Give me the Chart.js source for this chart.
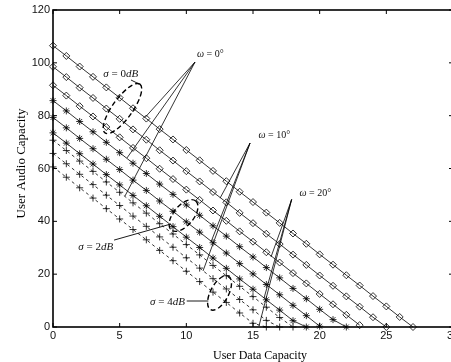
<!DOCTYPE html>
<html><head><meta charset="utf-8">
<script src="https://cdn.jsdelivr.net/npm/chart.js@4.4.1/dist/chart.umd.min.js"></script>
<style>
html,body{margin:0;padding:0;overflow:hidden;background:#fff;width:451px;height:362px}
canvas{display:block}
</style></head>
<body><canvas id="c" width="470" height="362"></canvas>
<script>
// ---- data ----
const dataCapacity = [0,1,2,3,4,5,6,7,8,9,10,11,12,13,14,15,16,17,18,19,20,21,22,23,24,25,26,27];
const xTicks = [0,5,10,15,20,25,30];
const yTicks = [0,20,40,60,80,100,120];

// sigma = 0 dB (diamonds)
const sigma0_w0  = [106.5,102.6,98.6,94.7,90.7,86.8,82.8,78.9,74.9,71.0,67.0,63.1,59.1,55.2,51.2,47.3,43.3,39.4,35.4,31.5,27.5,23.6,19.6,15.7,11.7,7.8,3.8,0];
const sigma0_w10 = [98.5,94.6,90.6,86.7,82.7,78.8,74.8,70.9,66.9,63.0,59.0,55.1,51.1,47.2,43.2,39.3,35.3,31.4,27.4,23.5,19.5,15.6,11.6,7.7,3.7,0];
const sigma0_w20 = [91.5,87.6,83.6,79.7,75.7,71.8,67.8,63.9,59.9,56.0,52.0,48.1,44.1,40.2,36.2,32.3,28.3,24.4,20.4,16.5,12.5,8.6,4.6,0.7];
// sigma = 2 dB (stars)
const sigma2_w0  = [85.7,81.8,77.8,73.9,69.9,66.0,62.0,58.1,54.1,50.2,46.2,42.3,38.3,34.4,30.4,26.5,22.5,18.6,14.6,10.7,6.7,2.8,0];
const sigma2_w10 = [79.3,75.4,71.4,67.5,63.5,59.6,55.6,51.7,47.7,43.8,39.8,35.9,31.9,28.0,24.0,20.1,16.1,12.2,8.2,4.3,0.3];
const sigma2_w20 = [73.5,69.6,65.6,61.7,57.7,53.8,49.8,45.9,41.9,38.0,34.0,30.1,26.1,22.2,18.2,14.3,10.3,6.4,2.4,0];
// sigma = 4 dB (plus)
const sigma4_w0  = [70.7,66.8,62.8,58.9,54.9,51.0,47.0,43.1,39.1,35.2,31.2,27.3,23.3,19.4,15.4,11.5,7.5,3.6,0];
const sigma4_w10 = [65.7,61.8,57.8,53.9,49.9,46.0,42.0,38.1,34.1,30.2,26.2,22.3,18.3,14.4,10.4,6.5,2.5,0];
const sigma4_w20 = [60.6,56.7,52.7,48.8,44.8,40.9,36.9,33.0,29.0,25.1,21.1,17.2,13.2,9.3,5.3,1.4,0];

// annotations (data coordinates)
const omegaLabels = [
  {text:['ω',' = 0°'],  at:[10.80,103.2], apex:[10.65,100.3], ends:[[6.90,79.3],[5.55,64.0],[5.40,49.6]]},
  {text:['ω',' = 10°'], at:[15.41,72.7],  apex:[14.78,69.65], ends:[[12.53,48.8],[11.85,32.2],[11.25,21.2]]},
  {text:['ω',' = 20°'], at:[18.49,50.5],  apex:[17.90,48.3],  ends:[[16.35,26.5],[15.83,11.0],[15.45,0.4]]}
];
const sigmaLabels = [
  {text:['σ',' = 0','dB'], at:[3.77,95.8], center:[5.21,82.7], leader:[[5.85,93.5],[6.45,92.0]]},
  {text:['σ',' = 2','dB'], at:[1.90,30.3], center:[9.79,42.2], leader:[[4.58,32.9],[8.85,39.0]]},
  {text:['σ',' = 4','dB'], at:[7.28,9.5],  center:[12.49,12.9], leader:[[10.03,9.84],[11.65,9.84]]}
];
const ellipseShapes = [[30,10,-0.95],[19,10,-0.87],[19,9,-1.08]]; // rx, ry, rotation (px)

function toXY(arr){ return arr.map((v,i)=>({x:dataCapacity[i], y:v})); }

const SERIF = '"Liberation Serif","Times New Roman",serif';
const SANS = '"Liberation Sans",Arial,Helvetica,sans-serif';

function ds(label, arr, style, dash){
  return {label, data: toXY(arr), pointStyle: style, borderDash: dash, clip: false,
    borderColor:'#000', borderWidth:0.8, pointRadius:3.5, pointHoverRadius:3.5,
    pointBorderColor:'#000', pointBorderWidth:0.8, pointBackgroundColor:'rgba(0,0,0,0)',
    tension:0, fill:false};
}

function drawRich(ctx, parts, x, y, size){
  let cx = x;
  parts.forEach((p, i)=>{
    const italic = (i % 2 === 0);
    ctx.font = (italic ? 'italic ' : '') + size + 'px ' + SERIF;
    ctx.fillText(p, cx, y);
    cx += ctx.measureText(p).width;
  });
}

const decor = {
  id:'decor',
  afterDraw(chart){
    const {ctx, chartArea:a, scales:{x, y}} = chart;
    const X = v => x.getPixelForValue(v), Y = v => y.getPixelForValue(v);
    ctx.save();
    // frame
    ctx.strokeStyle = '#000'; ctx.lineWidth = 1.6; ctx.setLineDash([]);
    ctx.strokeRect(a.left, a.top, a.right - a.left, a.bottom - a.top);
    // inward ticks
    ctx.lineWidth = 1;
    ctx.beginPath();
    xTicks.forEach(v=>{ const px = X(v);
      ctx.moveTo(px, a.bottom); ctx.lineTo(px, a.bottom - 4);
      ctx.moveTo(px, a.top); ctx.lineTo(px, a.top + 4); });
    yTicks.forEach(v=>{ const py = Y(v);
      ctx.moveTo(a.left, py); ctx.lineTo(a.left + 4, py);
      ctx.moveTo(a.right, py); ctx.lineTo(a.right - 4, py); });
    ctx.stroke();
    // omega pointers
    ctx.lineWidth = 0.8;
    omegaLabels.forEach(o=>{
      ctx.beginPath();
      o.ends.forEach(e=>{ ctx.moveTo(X(o.apex[0]), Y(o.apex[1])); ctx.lineTo(X(e[0]), Y(e[1])); });
      ctx.stroke();
    });
    // sigma ellipses + leaders
    sigmaLabels.forEach((s, i)=>{
      const [rx, ry, rot] = ellipseShapes[i];
      ctx.lineWidth = 1.4; ctx.setLineDash([5,3]);
      ctx.beginPath(); ctx.ellipse(X(s.center[0]), Y(s.center[1]), rx, ry, rot, 0, Math.PI*2); ctx.stroke();
      ctx.setLineDash([]); ctx.lineWidth = 0.9;
      ctx.beginPath(); ctx.moveTo(X(s.leader[0][0]), Y(s.leader[0][1])); ctx.lineTo(X(s.leader[1][0]), Y(s.leader[1][1])); ctx.stroke();
    });
    // labels
    ctx.fillStyle = '#111'; ctx.textBaseline = 'middle'; ctx.textAlign = 'left';
    omegaLabels.forEach(o=> drawRich(ctx, o.text, X(o.at[0]), Y(o.at[1]), 10));
    sigmaLabels.forEach(s=> drawRich(ctx, s.text, X(s.at[0]), Y(s.at[1]), 11));
    // axis titles
    ctx.fillStyle = '#000'; ctx.textBaseline = 'alphabetic'; ctx.textAlign = 'center';
    ctx.font = '12px ' + SERIF;
    ctx.fillText('User Data Capacity', (a.left + a.right)/2 + 7, 359);
    ctx.save();
    ctx.translate(25, (a.top + a.bottom)/2 - 5);
    ctx.rotate(-Math.PI/2);
    ctx.font = '13px ' + SERIF;
    ctx.fillText('User Audio Capacity', 0, 0);
    ctx.restore();
    ctx.restore();
  }
};

new Chart(document.getElementById('c'), {
  type:'line',
  data:{ datasets:[
    ds('σ = 0dB, ω = 0°',  sigma0_w0,  'rectRot', []),
    ds('σ = 0dB, ω = 10°', sigma0_w10, 'rectRot', []),
    ds('σ = 0dB, ω = 20°', sigma0_w20, 'rectRot', []),
    ds('σ = 2dB, ω = 0°',  sigma2_w0,  'star', []),
    ds('σ = 2dB, ω = 10°', sigma2_w10, 'star', []),
    ds('σ = 2dB, ω = 20°', sigma2_w20, 'star', []),
    ds('σ = 4dB, ω = 0°',  sigma4_w0,  'cross', [3,3]),
    ds('σ = 4dB, ω = 10°', sigma4_w10, 'cross', [3,3]),
    ds('σ = 4dB, ω = 20°', sigma4_w20, 'cross', [3,3])
  ]},
  options:{
    responsive:false, animation:false, events:[],
    layout:{padding:{left:0, top:10, right:17, bottom:0}},
    plugins:{legend:{display:false}, tooltip:{enabled:false}},
    scales:{
      x:{type:'linear', min:0, max:30,
        afterBuildTicks: s=>{ s.ticks = xTicks.map(v=>({value:v})); },
        afterFit: s=>{ s.height = 35; },
        grid:{display:false, drawTicks:false}, border:{display:false},
        ticks:{padding:2, color:'#111', font:{family:SANS, size:11}, maxRotation:0, autoSkip:false}},
      y:{type:'linear', min:0, max:120,
        afterBuildTicks: s=>{ s.ticks = yTicks.map(v=>({value:v})); },
        afterFit: s=>{ s.width = 53; },
        grid:{display:false, drawTicks:false}, border:{display:false},
        ticks:{padding:3, color:'#111', font:{family:SANS, size:11}, autoSkip:false}}
    }
  },
  plugins:[decor]
});
</script>
</body></html>
